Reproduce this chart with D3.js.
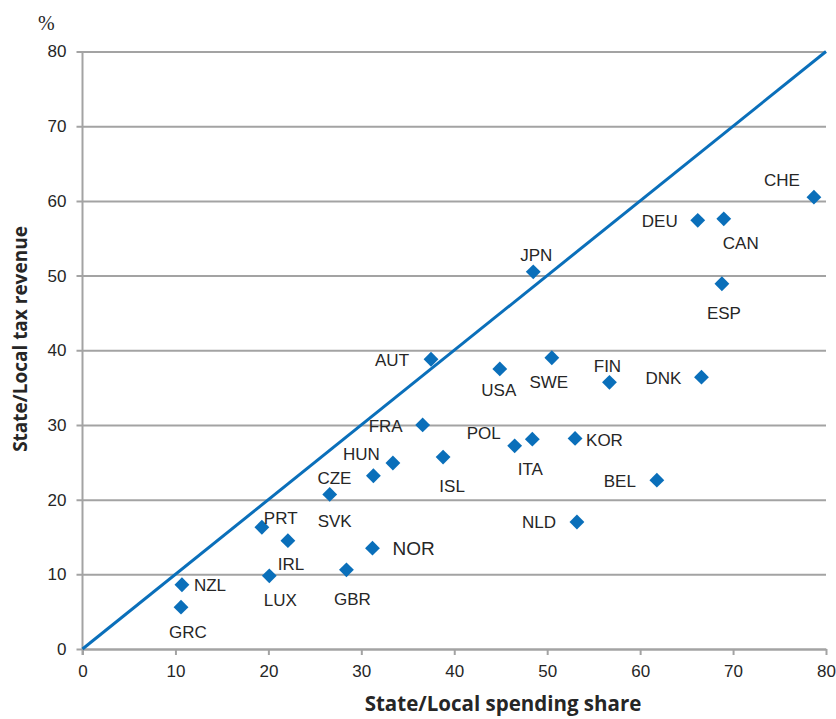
<!DOCTYPE html>
<html>
<head>
<meta charset="utf-8">
<script src="https://cdn.jsdelivr.net/npm/d3@7"></script>
<style>
  body { margin: 0; background: #fff; }
  svg text { fill: #262626; }
</style>
</head>
<body>
<svg></svg>
<script>
// countries, spending share (x) and tax revenue (y), in %
const countries = ["NZL", "GRC", "LUX", "IRL", "PRT", "GBR", "NOR", "SVK", "CZE", "HUN",
                   "FRA", "AUT", "ISL", "USA", "SWE", "POL", "ITA", "KOR", "JPN", "FIN",
                   "DNK", "BEL", "NLD", "DEU", "CAN", "ESP", "CHE"];
const spending = [10.7, 10.6, 20.1, 22.1, 19.3, 28.4, 31.2, 26.6, 31.3, 33.4,
                  36.6, 37.5, 38.8, 44.9, 50.5, 46.5, 48.4, 53.0, 48.5, 56.7,
                  66.6, 61.8, 53.2, 66.2, 69.0, 68.8, 78.7];
const revenue  = [8.6, 5.6, 9.8, 14.5, 16.3, 10.6, 13.5, 20.7, 23.2, 24.9,
                  30.0, 38.8, 25.7, 37.5, 39.0, 27.2, 28.1, 28.2, 50.5, 35.7,
                  36.4, 22.6, 17.0, 57.4, 57.6, 48.9, 60.5];
const xTicks = [0, 10, 20, 30, 40, 50, 60, 70, 80];
const yTicks = [0, 10, 20, 30, 40, 50, 60, 70, 80];

// where each label sits relative to its point: [dx, dy, anchor]
const labelPos = {
  NZL: [12, 0, "start"], GRC: [7, 25, "middle"], LUX: [11, 24, "middle"],
  IRL: [3, 23, "middle"], PRT: [2, -9, "start"], GBR: [6, 29, "middle"],
  NOR: [20, 0, "start"], SVK: [5, 26, "middle"], CZE: [-22, 2, "end"],
  HUN: [-13, -9, "end"], FRA: [-20, 1, "end"], AUT: [-22, 1, "end"],
  ISL: [9, 29, "middle"], USA: [-1, 21, "middle"], SWE: [-3, 24, "middle"],
  POL: [-14, -13, "end"], ITA: [-2, 30, "middle"], KOR: [11, 1, "start"],
  JPN: [3, -17, "middle"], FIN: [-2, -16, "middle"], DNK: [-20, 1, "end"],
  BEL: [-21, 1, "end"], NLD: [-21, 0, "end"], DEU: [-20, 1, "end"],
  CAN: [17, 24, "middle"], ESP: [2, 29, "middle"], CHE: [-32, -17, "middle"]
};

const data = countries.map((c, i) => ({name: c, x: spending[i], y: revenue[i]}));

const svgWidth = 836;
const svgHeight = 719;
const svg = d3.select("svg")
    .attr("width", svgWidth)
    .attr("height", svgHeight);

const margin = {top: 51.5, right: 10, bottom: 70, left: 82.5};
const g = svg.append("g").attr("transform", "translate(" + margin.left + "," + margin.top + ")");

const x = d3.scaleLinear().domain([0, 80]).range([0, 743.5]);
const y = d3.scaleLinear().domain([0, 80]).range([597.5, 0]);

const gray = "#a3a3a3";
const blue = "#0a6fba";
const tickFont = "'Liberation Sans', Arial, sans-serif";
const titleFont = "'Open Sans', 'Liberation Sans', sans-serif";

// y axis with gridlines
const yAxis = g.append("g")
    .call(d3.axisLeft(y).tickValues(yTicks).tickSize(-x(80)).tickPadding(16).tickSizeOuter(0));
yAxis.select(".domain").remove();
yAxis.selectAll(".tick line")
    .attr("stroke", gray).attr("stroke-width", 2)
    .attr("x1", -6);
yAxis.selectAll(".tick text")
    .style("font-family", tickFont).style("font-size", "17px").attr("fill", "#262626");

// x axis
const xAxis = g.append("g")
    .attr("transform", "translate(0," + y(0) + ")")
    .call(d3.axisBottom(x).tickValues(xTicks).tickSize(6).tickPadding(10).tickSizeOuter(0));
xAxis.select(".domain").attr("stroke", gray).attr("stroke-width", 2);
xAxis.selectAll(".tick line").attr("stroke", gray).attr("stroke-width", 2);
xAxis.selectAll(".tick text")
    .style("font-family", tickFont).style("font-size", "17px").attr("fill", "#262626");

// vertical axis line
g.append("line")
    .attr("x1", 0).attr("x2", 0)
    .attr("y1", y(80)).attr("y2", y(0) + 6)
    .attr("stroke", gray).attr("stroke-width", 2);

// 45 degree line
g.append("line")
    .attr("x1", x(0)).attr("y1", y(0))
    .attr("x2", x(80)).attr("y2", y(80))
    .attr("stroke", blue).attr("stroke-width", 3);

// points
const diamond = d3.symbol().type(d3.symbolSquare).size(110);
g.selectAll(".pt")
    .data(data)
    .join("path")
    .attr("class", "pt")
    .attr("d", diamond)
    .attr("transform", d => "translate(" + x(d.x) + "," + y(d.y) + ") rotate(45)")
    .attr("fill", blue);

// country labels
g.selectAll(".lbl")
    .data(data)
    .join("text")
    .attr("class", "lbl")
    .attr("x", d => x(d.x) + labelPos[d.name][0])
    .attr("y", d => y(d.y) + labelPos[d.name][1])
    .attr("dy", "0.36em")
    .attr("text-anchor", d => labelPos[d.name][2])
    .style("font-family", tickFont)
    .style("font-size", d => d.name === "NOR" ? "19px" : "17px")
    .text(d => d.name);

// axis titles
svg.append("text")
    .attr("x", 503)
    .attr("y", 711)
    .attr("text-anchor", "middle")
    .style("font-family", titleFont)
    .style("font-weight", "bold")
    .style("font-size", "20.5px")
    .text("State/Local spending share");

svg.append("text")
    .attr("transform", "translate(27,339) rotate(-90)")
    .attr("text-anchor", "middle")
    .style("font-family", titleFont)
    .style("font-weight", "bold")
    .style("font-size", "19px")
    .text("State/Local tax revenue");

svg.append("text")
    .attr("x", 38)
    .attr("y", 30)
    .style("font-family", "'Liberation Serif', 'DejaVu Serif', serif")
    .style("font-size", "20px")
    .text("%");
</script>
</body>
</html>
